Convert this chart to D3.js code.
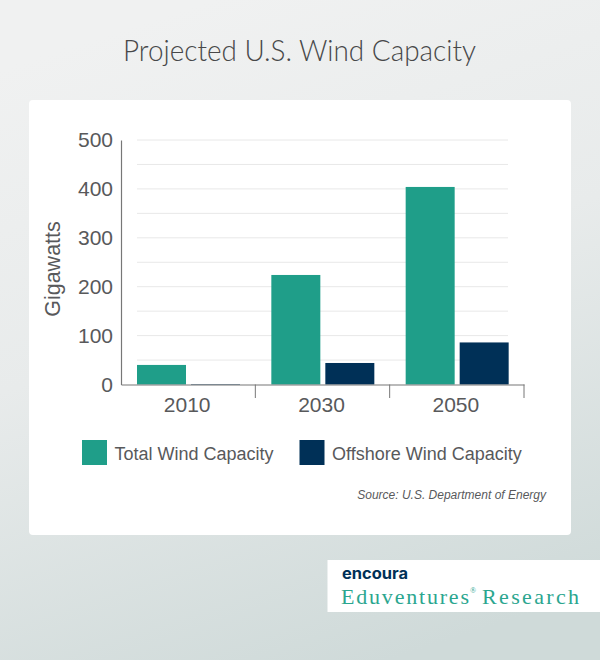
<!DOCTYPE html>
<html><head><meta charset="utf-8">
<script src="https://cdn.jsdelivr.net/npm/d3@7"></script>
<style>html,body{margin:0;padding:0;background:#e4e8e8}svg{display:block}text{font-family:"Liberation Sans",Arial,sans-serif}</style>
</head><body><svg id="c" width="600" height="660"></svg>
<script>
const categories = ["2010","2030","2050"];
const seriesNames = ["Total Wind Capacity","Offshore Wind Capacity"];
const totalWind = [40,224,404];
const offshoreWind = [1,44,86];
const yTicks = [0,100,200,300,400,500];
const gridValues = [50,100,150,200,250,300,350,400,450,500];
const colors = ["#1f9e89","#003057"];

const svg = d3.select("#c");
const defs = svg.append("defs");
const g = defs.append("linearGradient").attr("id","bg").attr("x1","0.35").attr("y1","0").attr("x2","0.65").attr("y2","1");
g.append("stop").attr("offset","0").attr("stop-color","#f0f1f1");
g.append("stop").attr("offset","0.45").attr("stop-color","#e8ebeb");
g.append("stop").attr("offset","1").attr("stop-color","#cfdad9");
svg.append("rect").attr("width",600).attr("height",660).attr("fill","url(#bg)");
svg.append("rect").attr("x",29).attr("y",100).attr("width",542).attr("height",435).attr("rx",4).attr("fill","#fff");

svg.append("text").attr("x",123).attr("y",61)
  .attr("textLength",353).attr("lengthAdjust","spacingAndGlyphs")
  .style("font-family","Lato").style("font-weight",300).style("font-size","29px").attr("fill","#474849")
  .text("Projected U.S. Wind Capacity");

const y = d3.scaleLinear().domain([0,500]).range([384.5,140]);
const x = d3.scaleBand().domain(categories).range([121,524]);
const xInner = d3.scaleBand().domain(seriesNames).range([16,119]).paddingInner(5/54);

svg.append("g").selectAll("line").data(gridValues).join("line")
  .attr("x1",137).attr("x2",508).attr("y1",d=>y(d)).attr("y2",d=>y(d))
  .attr("stroke","#e8e8e8").attr("stroke-width",1);

const series = [totalWind, offshoreWind];
series.forEach((vals,i)=>{
  svg.append("g").selectAll("rect").data(vals).join("rect")
    .attr("x",(d,k)=>x(categories[k])+xInner(seriesNames[i]))
    .attr("width",xInner.bandwidth())
    .attr("y",d=>y(d)).attr("height",d=>y(0)-y(d))
    .attr("fill",colors[i]);
});

const yAxis = svg.append("g").attr("transform","translate(121,0)")
  .call(d3.axisLeft(y).tickValues(yTicks).tickSize(0).tickPadding(8));
yAxis.select(".domain").attr("stroke","#777").attr("stroke-width",1.2);
yAxis.selectAll("text").style("font-size","21px").attr("fill","#58595b").attr("dy","0.33em");

const xAxis = svg.append("g").attr("transform","translate(0,384.5)")
  .call(d3.axisBottom(x).tickSize(0).tickPadding(13));
xAxis.select(".domain").attr("stroke","#777").attr("stroke-width",1.2);
xAxis.selectAll("text").style("font-size","21px").attr("fill","#58595b").attr("dx","-1");
svg.append("g").selectAll("line").data(categories).join("line")
  .attr("x1",d=>x(d)+x.bandwidth()).attr("x2",d=>x(d)+x.bandwidth())
  .attr("y1",384.5).attr("y2",398).attr("stroke","#777").attr("stroke-width",1);

svg.append("text").attr("transform","translate(59.5,269) rotate(-90)").attr("text-anchor","middle")
  .style("font-size","21.5px").attr("fill","#58595b").text("Gigawatts");

const legendX = [82,299.5];
seriesNames.forEach((n,i)=>{
  svg.append("rect").attr("x",legendX[i]).attr("y",440).attr("width",25).attr("height",25).attr("fill",colors[i]);
  svg.append("text").attr("x",legendX[i]+32.5).attr("y",459.5).style("font-size","18px").attr("fill","#58595b").text(n);
});
svg.append("text").attr("x",546).attr("y",499).attr("text-anchor","end")
  .style("font-size","12px").style("font-style","italic").attr("fill","#58595b").text("Source: U.S. Department of Energy");

svg.append("rect").attr("x",327.5).attr("y",560).attr("width",272.5).attr("height",52).attr("fill","#fff");
svg.append("text").attr("x",342).attr("y",578.5).attr("textLength",66).attr("lengthAdjust","spacingAndGlyphs")
  .style("font-family","Inter").style("font-weight",700).style("font-size","15px").attr("fill","#003057").text("encoura");
const slab = {family:"Liberation Serif",size:"22px",color:"#2ba68f"};
svg.append("text").attr("x",341).attr("y",604).attr("textLength",128).attr("lengthAdjust","spacing")
  .style("font-family",slab.family).style("font-size",slab.size).attr("fill",slab.color).text("Eduventures");
svg.append("text").attr("x",470).attr("y",593)
  .style("font-family",slab.family).style("font-size","8px").attr("fill",slab.color).text("®");
svg.append("text").attr("x",482).attr("y",604).attr("textLength",97).attr("lengthAdjust","spacing")
  .style("font-family",slab.family).style("font-size",slab.size).attr("fill",slab.color).text("Research");
</script></body></html>
